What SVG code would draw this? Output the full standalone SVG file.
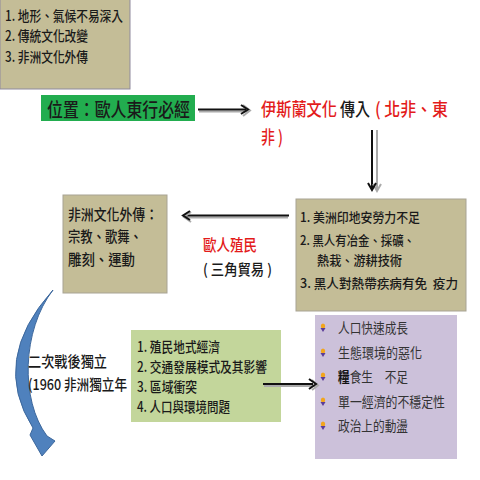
<svg xmlns="http://www.w3.org/2000/svg" width="480" height="480" viewBox="0 0 480 480">
<style>
text{font-family:"Noto Sans CJK TC","Liberation Sans",sans-serif;fill:#1a1a1a;white-space:pre;font-weight:500}
.red{fill:#e31b1b}
.tan{fill:#c4bd97;stroke:#a8a394;stroke-width:1}
.blk{stroke:#111;stroke-width:2;fill:none}
.gry{stroke:#aaa;stroke-width:2;fill:none}
.pl text{fill:#333;font-weight:400}
</style>
<defs>
<g id="bul">
<ellipse cx="0" cy="-2" rx="2.2" ry="2.6" fill="#f2a51c"/>
<path d="M-2.5,0 L2.5,0 L0,4 Z" fill="#5a3d9a"/>
</g>
</defs>
<rect width="480" height="480" fill="#fff"/>

<g id="reasons">
<rect class="tan" x="0" y="-1" width="130" height="90" style="stroke:#8f8a9e"/>
<text x="5" y="21" font-size="14" textLength="118" lengthAdjust="spacingAndGlyphs">1. 地形、氣候不易深入</text>
<text x="5" y="41" font-size="14" textLength="83" lengthAdjust="spacingAndGlyphs">2. 傳統文化改變</text>
<text x="5" y="62" font-size="14" textLength="83" lengthAdjust="spacingAndGlyphs">3. 非洲文化外傳</text>
</g>

<g id="location">
<rect x="41" y="95" width="154" height="26" fill="#22ad4f"/>
<text x="47" y="117" font-size="19" textLength="143" lengthAdjust="spacingAndGlyphs">位置：歐人東行必經</text>
</g>

<g id="islam">
<text class="red" x="261" y="116" font-size="18" textLength="76" lengthAdjust="spacingAndGlyphs">伊斯蘭文化</text>
<text x="340" y="116" font-size="18" textLength="30" lengthAdjust="spacingAndGlyphs">傳入</text>
<text class="red" x="375" y="116" font-size="18" textLength="73" lengthAdjust="spacingAndGlyphs">( 北非、東</text>
<text class="red" x="261" y="144" font-size="18" textLength="22" lengthAdjust="spacingAndGlyphs">非 )</text>
</g>

<g id="causes">
<rect class="tan" x="296" y="199" width="170" height="112"/>
<text x="300" y="222" font-size="13" textLength="120" lengthAdjust="spacingAndGlyphs">1. 美洲印地安勞力不足</text>
<text x="300" y="245" font-size="13" textLength="115" lengthAdjust="spacingAndGlyphs">2. 黑人有冶金、採礦、</text>
<text x="317" y="265" font-size="13" textLength="85" lengthAdjust="spacingAndGlyphs">熱栽、游耕技術</text>
<text x="300" y="288" font-size="13" textLength="158" lengthAdjust="spacingAndGlyphs">3. 黑人對熱帶疾病有免  疫力</text>
</g>

<g id="culture">
<rect class="tan" x="63" y="195" width="104" height="98"/>
<text x="68" y="220" font-size="15" textLength="90" lengthAdjust="spacingAndGlyphs">非洲文化外傳：</text>
<text x="68" y="242" font-size="15" textLength="74" lengthAdjust="spacingAndGlyphs">宗教、歌舞、</text>
<text x="68" y="265" font-size="15" textLength="67" lengthAdjust="spacingAndGlyphs">雕刻、運動</text>
</g>

<g id="colonial">
<text class="red" x="203" y="251" font-size="16" textLength="54" lengthAdjust="spacingAndGlyphs">歐人殖民</text>
<text x="203" y="275" font-size="15" textLength="69" lengthAdjust="spacingAndGlyphs">( 三角貿易 )</text>
</g>

<g id="independence">
<path d="M53,290 Q-10,360 33,428 L30,435 L42,456 L55,441 L47,436 C20,400 22,330 53,290 Z" fill="#4f81bd" stroke="#3c679c" stroke-width="1"/>
<text x="28" y="367" font-size="15" textLength="79" lengthAdjust="spacingAndGlyphs">二次戰後獨立</text>
<text x="28" y="390" font-size="15" textLength="99" lengthAdjust="spacingAndGlyphs">(1960 非洲獨立年</text>
</g>

<g id="issues">
<rect x="131" y="330" width="150" height="92" fill="#c3d69b"/>
<text x="137" y="352" font-size="14" textLength="83" lengthAdjust="spacingAndGlyphs">1. 殖民地式經濟</text>
<text x="137" y="372" font-size="14" textLength="130" lengthAdjust="spacingAndGlyphs">2. 交通發展模式及其影響</text>
<text x="137" y="392" font-size="14" textLength="60" lengthAdjust="spacingAndGlyphs">3. 區域衝突</text>
<text x="137" y="412" font-size="14" textLength="93" lengthAdjust="spacingAndGlyphs">4. 人口與環境問題</text>
</g>

<g id="problems" class="pl">
<rect x="315" y="315" width="142" height="144" fill="#ccc1da"/>
<use href="#bul" x="323" y="328"/>
<use href="#bul" x="323" y="353"/>
<use href="#bul" x="323" y="377"/>
<use href="#bul" x="323" y="402"/>
<use href="#bul" x="323" y="426"/>
<text x="338" y="333" font-size="14" textLength="70" lengthAdjust="spacingAndGlyphs">人口快速成長</text>
<text x="338" y="358" font-size="14" textLength="84" lengthAdjust="spacingAndGlyphs">生態環境的惡化</text>
<text x="338" y="382" font-size="14" textLength="70" lengthAdjust="spacingAndGlyphs"><tspan font-weight="bold" style="fill:#111">糧</tspan>食生　不足</text>
<text x="338" y="407" font-size="14" textLength="107" lengthAdjust="spacingAndGlyphs">單一經濟的不穩定性</text>
<text x="338" y="431" font-size="14" textLength="70" lengthAdjust="spacingAndGlyphs">政治上的動盪</text>
</g>

<g id="connectors">
<line class="gry" x1="199" y1="111.5" x2="248" y2="111.5"/>
<line class="blk" x1="198" y1="109.5" x2="246" y2="109.5"/>
<polyline class="gry" points="243,105 250,110.5 243,116"/>
<polyline class="blk" points="241,105 248,109.5 241,114"/>
<line class="gry" x1="377" y1="130" x2="377" y2="189"/>
<line class="blk" x1="372" y1="130" x2="372" y2="188"/>
<polyline class="gry" points="373,184 377,191 381,184"/>
<polyline class="blk" points="368,183 372,190 376,183"/>
<line class="gry" x1="288" y1="217.5" x2="186" y2="217.5"/>
<line class="blk" x1="289" y1="215.5" x2="185" y2="215.5"/>
<polyline class="gry" points="191,212 184,217 191,222"/>
<polyline class="blk" points="190,211 183,215.5 190,220"/>
<line class="gry" x1="264" y1="386" x2="315" y2="386"/>
<line class="blk" x1="263" y1="384" x2="313" y2="384"/>
<polyline class="gry" points="312,380 318,385.5 312,390"/>
<polyline class="blk" points="309,379 316,384 309,389"/>
</g>
</svg>
